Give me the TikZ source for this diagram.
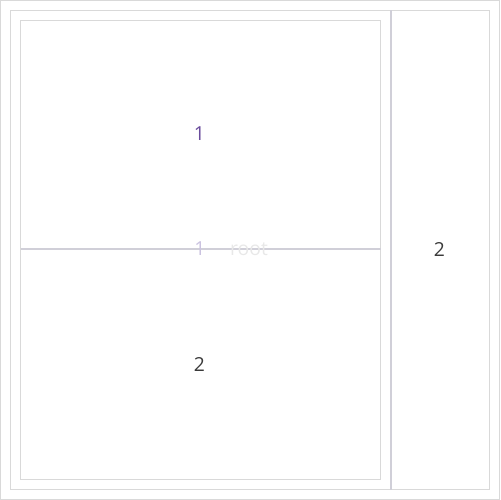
\documentclass[tikz,border=0pt]{standalone}
\usepackage{fontspec}
\setmainfont{Open Sans}
\definecolor{edgegray}{HTML}{D9D9D9}
\definecolor{divgray}{HTML}{D0CFD8}
\definecolor{lblpurple}{HTML}{6A4C9C}
\definecolor{lbldark}{HTML}{3A3A3A}
\definecolor{faintpurple}{HTML}{CBC3E0}
\definecolor{faintgray}{HTML}{E8E8E8}
\begin{document}
\begin{tikzpicture}[x=0.02cm,y=-0.02cm,
  frame/.style={draw=edgegray,line width=0.6pt},
  divider/.style={draw=divgray,line width=1.1pt},
  lbl/.style={font=\fontsize{11}{13}\selectfont,inner sep=0pt}]
\useasboundingbox (0,0) rectangle (500,500);
\draw[frame] (0.7,0.7) rectangle (499.3,499.3);
\draw[frame] (10.5,10.5) rectangle (489.5,489.5);
\draw[frame] (20.5,20.5) rectangle (380.5,479.5);
\coordinate (vtop) at (391,10.5);
\coordinate (vbot) at (391,489.5);
\coordinate (hl) at (20.5,249);
\coordinate (hr) at (380.5,249);
\draw[divider] (vtop) -- (vbot);
\draw[divider] (hl) -- (hr);
\node[lbl,text=faintpurple] (r1) at (200,249) {1};
\node[lbl,text=faintgray] (root) at (249,249) {root};
\node[lbl,text=lblpurple] (a) at (199.5,134) {1};
\node[lbl,text=lbldark] (b) at (199.5,364.5) {2};
\node[lbl,text=lbldark] (c) at (439.5,249.5) {2};
\end{tikzpicture}
\end{document}
